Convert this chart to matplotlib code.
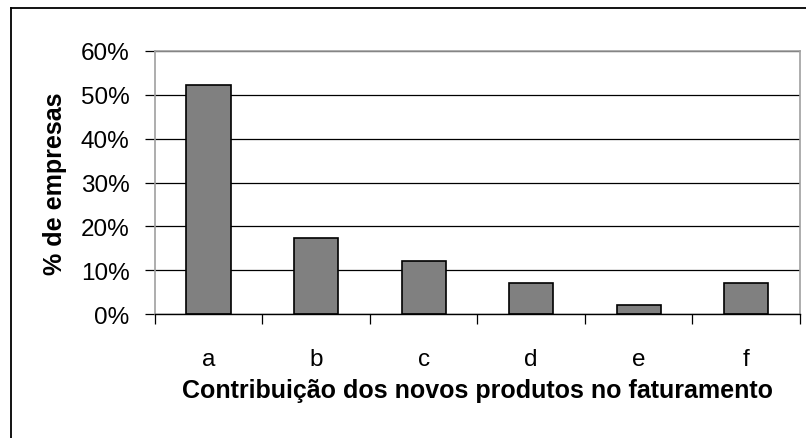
import matplotlib
matplotlib.use("Agg")
import matplotlib.pyplot as plt
from matplotlib.ticker import FixedLocator
import numpy as np

categories = ["a", "b", "c", "d", "e", "f"]
values = [52.2, 17.3, 12.2, 7.2, 2.2, 7.2]
yticks = [0, 10, 20, 30, 40, 50, 60]
ytick_labels = ["0%", "10%", "20%", "30%", "40%", "50%", "60%"]

plt.rcParams['font.family'] = ['Liberation Sans', 'DejaVu Sans']

fig = plt.figure(figsize=(8.06, 4.39), dpi=100)
ax = fig.add_axes([154.7/806, 1-315.3/439, (800-154.7)/806, (315.3-51.7)/439])

x = np.arange(len(categories))
ax.bar(x, values, width=0.41, color="#808080", edgecolor="black", linewidth=1.2, zorder=3)

ax.set_xlim(-0.5, len(categories) - 0.5)
ax.set_ylim(0, 60)
ax.set_yticks(yticks)
ax.set_yticklabels(ytick_labels, fontsize=17.5)
ax.yaxis.grid(True, color="black", linewidth=0.9, zorder=1)
ax.set_xticks(x)
ax.set_xticklabels(categories, fontsize=17.5)
ax.xaxis.set_minor_locator(FixedLocator(np.arange(len(categories) + 1) - 0.5))
ax.tick_params(axis="x", which="major", length=0, pad=24)
ax.tick_params(axis="x", which="minor", length=7, width=0.9, color="black", direction="out")
ax.tick_params(axis="y", length=7, width=0.9, color="black", pad=11)

for side in ["left", "top", "right"]:
    ax.spines[side].set_color("#a0a0a0")
    ax.spines[side].set_linewidth(1.2)
ax.spines["bottom"].set_color("black")
ax.spines["bottom"].set_linewidth(1.0)
ax.spines["bottom"].set_zorder(4)

ax.set_ylabel("% de empresas", fontsize=18, fontweight="bold", labelpad=10)
ax.set_xlabel("Contribuição dos novos produtos no faturamento", fontsize=18,
              fontweight="bold", labelpad=6)

# outer chart frame (only left and top visible)
fig.add_artist(plt.Line2D([10.5/806, 10.5/806], [0, 1-9.3/439], color="black", linewidth=1.3,
                          transform=fig.transFigure))
fig.add_artist(plt.Line2D([10.5/806, 1], [1-9.3/439, 1-9.3/439], color="black", linewidth=1.3,
                          transform=fig.transFigure))

fig.savefig("out.png", dpi=100)
